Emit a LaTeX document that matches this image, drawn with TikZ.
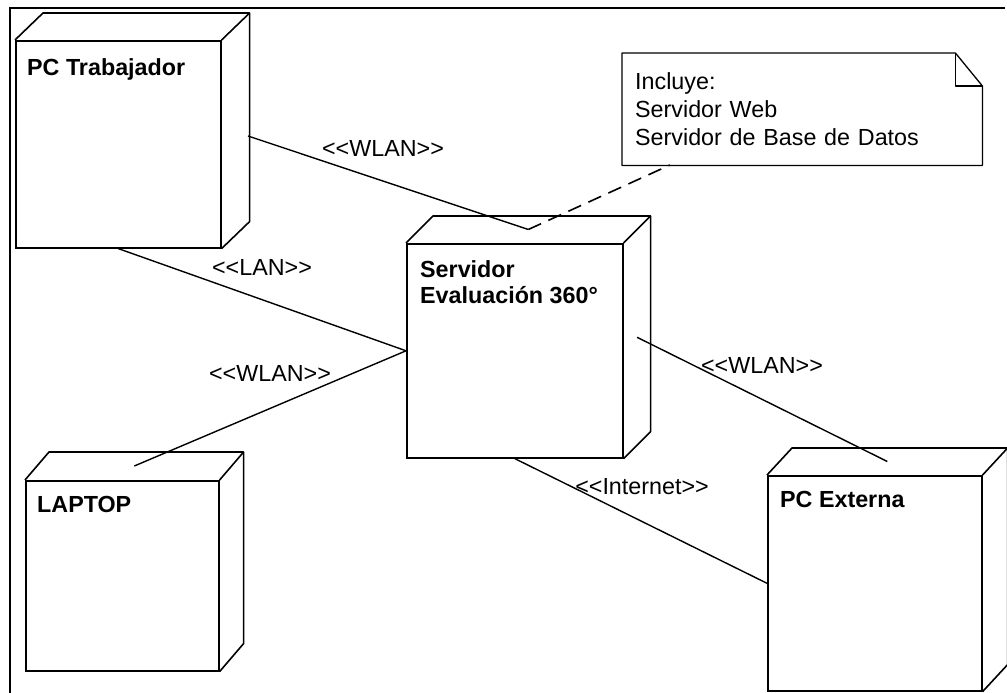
\documentclass[tikz,border=0pt]{standalone}
\usepackage{fontspec}
\setmainfont{Liberation Sans}[Ligatures=TeXOff]
\usetikzlibrary{calc}
\begin{document}
\begin{tikzpicture}[x=1pt,y=-1pt,
  front/.style={draw, line width=1.6pt, inner sep=0pt, anchor=north west},
  face/.style={draw, line width=1.6pt, line join=round},
  title/.style={font=\fontsize{23.3}{26}\selectfont\bfseries, anchor=base west, align=left, inner sep=0pt},
  elabel/.style={font=\fontsize{23.3}{26}\selectfont, inner sep=0pt},
  conn/.style={line width=1.4pt},
  noteline/.style={line width=1.6pt, dash pattern=on 14pt off 8pt},
  frame/.style={line width=2.4pt}]
\useasboundingbox (0,0) rectangle (1007,693);
\draw[frame] (10,693) -- (10,8) -- (1005,8);

% PC Trabajador
\node[front, minimum width=205pt, minimum height=207pt] (pct) at (15,40) {};
\draw[face] (pct.north west) -- ++(28,-27) -- ($(pct.north east)+(28,-27)$) -- ($(pct.south east)+(28,-27)$) -- (pct.south east);
\draw[face] (pct.north east) -- ++(28,-27);
\node[title] (pct-t) at (27,76) {PC Trabajador};

% Servidor
\node[front, minimum width=216pt, minimum height=214pt] (srv) at (406,243) {};
\draw[face] (srv.north west) -- ++(27,-27) -- ($(srv.north east)+(27,-27)$) -- ($(srv.south east)+(27,-27)$) -- (srv.south east);
\draw[face] (srv.north east) -- ++(27,-27);
\node[title] (srv-t) at (420,303) {Servidor\\Evaluación 360°};

% LAPTOP
\node[front, minimum width=193pt, minimum height=190pt] (lap) at (25,480) {};
\draw[face] (lap.north west) -- ++(24,-28) -- ($(lap.north east)+(24,-28)$) -- ($(lap.south east)+(24,-28)$) -- (lap.south east);
\draw[face] (lap.north east) -- ++(24,-28);
\node[title] (lap-t) at (37,512) {LAPTOP};

% PC Externa
\node[front, minimum width=214pt, minimum height=215pt] (ext) at (767,475) {};
\draw[face] (ext.north west) -- ++(25,-27) -- ($(ext.north east)+(25,-27)$) -- ($(ext.south east)+(25,-27)$) -- (ext.south east);
\draw[face] (ext.north east) -- ++(25,-27);
\node[title] (ext-t) at (780,507) {PC Externa};

% Note
\node[minimum width=360pt, minimum height=112pt, text width=334pt, inner xsep=13pt, inner ysep=0pt, align=left, font=\fontsize{23.3}{28}\selectfont, anchor=north west] (note) at (622,53) {Incluye:\\Servidor Web\\Servidor de Base de Datos};
\draw[face, line width=1.3pt] (note.north west) -- ($(note.north east)+(-27,0)$) -- ($(note.north east)+(0,33)$) -- (note.south east) -- (note.south west) -- cycle;
\draw[face, line width=1.3pt] ($(note.north east)+(-27,0)$) -- ++(0,33) -- ++(27,0);

% connector end points
\coordinate (pct-e) at (248,136);
\coordinate (srv-top) at ($(srv.north)+(13.5,-13.5)$);
\coordinate (srv-side) at ($(srv.east)+(13.5,-13.5)$);
\coordinate (lap-top) at ($(lap.north)+(12,-14)$);
\coordinate (ext-top) at ($(ext.north)+(12.5,-13.5)$);
\coordinate (note-a) at (670,165);

% connectors
\draw[conn] (pct-e) -- (srv-top);
\draw[conn] (pct.south) -- (srv.west);
\draw[conn] (lap-top) -- (srv.west);
\draw[conn] (srv-side) -- (ext-top);
\draw[conn] (srv.south) -- (ext.west);
\draw[noteline] (srv-top) -- (note-a);

% connector labels
\node[elabel] (l1) at (383,148) {<\kern0pt<WLAN>\kern0pt>};
\node[elabel] (l2) at (262,267) {<\kern0pt<LAN>\kern0pt>};
\node[elabel] (l3) at (270,373) {<\kern0pt<WLAN>\kern0pt>};
\node[elabel] (l4) at (762,365) {<\kern0pt<WLAN>\kern0pt>};
\node[elabel] (l5) at (642,487) {<\kern0pt<Internet>\kern0pt>};
\end{tikzpicture}
\end{document}
